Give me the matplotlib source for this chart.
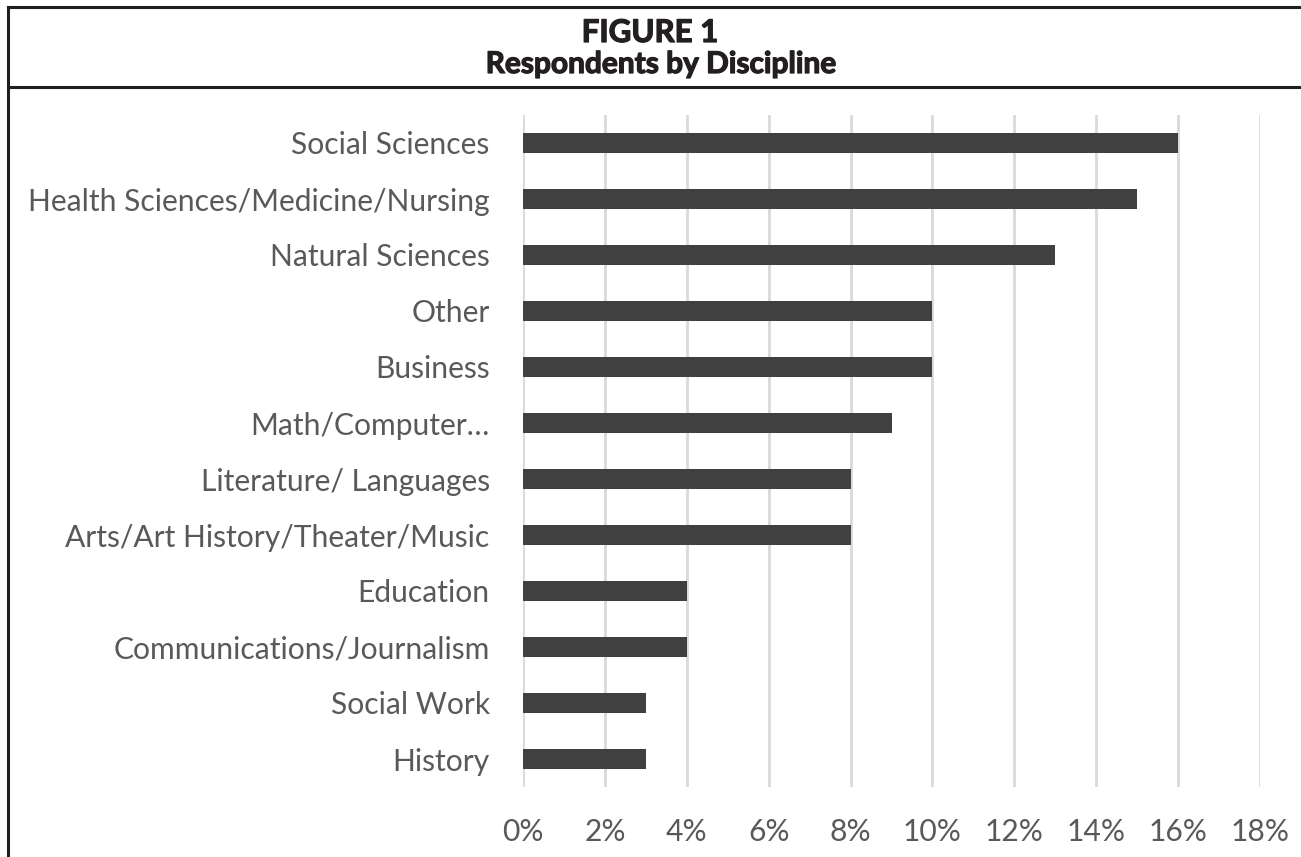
import matplotlib
matplotlib.use("Agg")
import matplotlib.pyplot as plt
import matplotlib.patheffects as pe
from matplotlib.lines import Line2D
from matplotlib.ticker import FuncFormatter

# Share of survey respondents by academic discipline (percent)
disciplines = [
    "Social Sciences",
    "Health Sciences/Medicine/Nursing",
    "Natural Sciences",
    "Other",
    "Business",
    "Math/Computer\u2026",
    "Literature/ Languages",
    "Arts/Art History/Theater/Music",
    "Education",
    "Communications/Journalism",
    "Social Work",
    "History",
]
shares = [16, 15, 13, 10, 10, 9, 8, 8, 4, 4, 3, 3]
x_ticks = [0, 2, 4, 6, 8, 10, 12, 14, 16, 18]

W, H = 1301, 857
fig = plt.figure(figsize=(W / 100, H / 100), dpi=100)
fig.patch.set_facecolor("white")

label_font = ["Lato", "DejaVu Sans"]
text_grey = "#595959"

# Plot area placed in pixel terms
left, right, top, bottom = 523, 1260, 115, 787
ax = fig.add_axes([left / W, 1 - bottom / H, (right - left) / W, (bottom - top) / H])

ypos = list(range(len(disciplines)))
ax.barh(ypos, shares, height=0.34, color="#404040", zorder=3)
ax.set_ylim(len(disciplines) - 0.5, -0.5)
ax.set_xlim(0, 18)
ax.set_xticks(x_ticks)
ax.xaxis.set_major_formatter(FuncFormatter(lambda v, p: f"{v:.0f}%"))
ax.set_yticks(ypos)
ax.set_yticklabels(disciplines)
ax.grid(axis="x", color="#d9d9d9", linewidth=2, zorder=0)
for s in ax.spines.values():
    s.set_visible(False)
ax.tick_params(axis="both", length=0, colors=text_grey, labelsize=21.6)
ax.tick_params(axis="y", pad=24)
ax.tick_params(axis="x", pad=22)
for lbl in ax.get_xticklabels() + ax.get_yticklabels():
    lbl.set_family(label_font)

# Frame: top rule, left rule, and the rule under the title block
frame_kw = dict(color="#231f20", linewidth=2.2, transform=fig.transFigure)
fig.add_artist(Line2D([8 / W, 1], [1 - 7 / H, 1 - 7 / H], **frame_kw))
fig.add_artist(Line2D([8 / W, 8 / W], [1 - 7 / H, 0], **frame_kw))
fig.add_artist(Line2D([8 / W, 1], [1 - 87 / H, 1 - 87 / H], **frame_kw))

# Heavy title lettering
title_font = ["Lato", "DejaVu Sans"]
heavy = [pe.withStroke(linewidth=0.9, foreground="#231f20")]
fig.text(650 / W, 1 - 42 / H, "FIGURE 1", ha="center", va="baseline",
         fontsize=22.5, fontweight="bold", family=title_font, color="#231f20",
         path_effects=heavy)
fig.text(661 / W, 1 - 73 / H, "Respondents by Discipline", ha="center", va="baseline",
         fontsize=21.5, fontweight="bold", family=title_font, color="#231f20",
         path_effects=heavy)

fig.savefig("out.png", dpi=100)
